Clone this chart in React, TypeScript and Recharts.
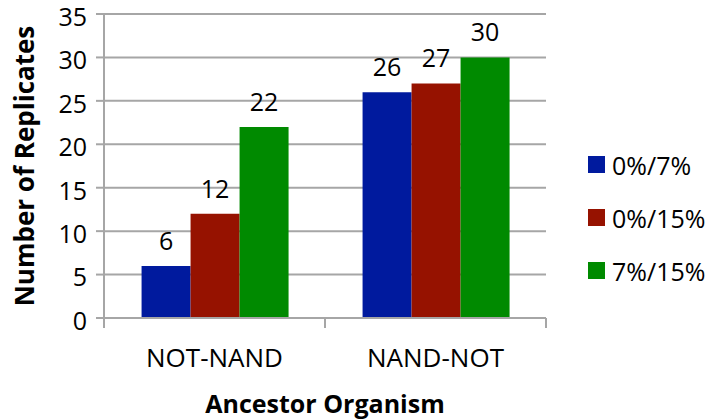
import React from 'react';
import { BarChart, Bar, XAxis, YAxis, CartesianGrid, Legend, LabelList } from 'recharts';

const categories = ['NOT-NAND', 'NAND-NOT'];
const series07 = [6, 26];
const series015 = [12, 27];
const series715 = [22, 30];
const seriesNames = ['0%/7%', '0%/15%', '7%/15%'];
const seriesColors = ['#001a9e', '#961200', '#008a00'];
const yTicks = [0, 5, 10, 15, 20, 25, 30, 35];

const data = categories.map((name, i) => ({
  name,
  s07: series07[i],
  s015: series015[i],
  s715: series715[i],
}));

const FONT = '"Open Sans", sans-serif';
const GRID = '#a6a6a6';
const valueLabelStyle = { fontFamily: FONT, fontSize: 25, fill: '#000' };

function CategoryTick(props: any) {
  const { x, y, payload, index } = props;
  const half = payload.offset ?? 0;
  return (
    <g>
      <line x1={x - half} x2={x - half} y1={y} y2={y + 10} stroke={GRID} strokeWidth={2} />
      {index === categories.length - 1 && (
        <line x1={x + half} x2={x + half} y1={y} y2={y + 10} stroke={GRID} strokeWidth={2} />
      )}
      <text x={x} y={y + 49} textAnchor="middle" fontFamily={FONT} fontSize={26} fill="#000">
        {payload.value}
      </text>
    </g>
  );
}

function LegendBox() {
  return (
    <div>
      {seriesNames.map((name, i) => (
        <div key={name} style={{ display: 'flex', alignItems: 'center', height: 53 }}>
          <div style={{ width: 17, height: 17, background: seriesColors[i], marginRight: 7 }} />
          <span style={{ fontFamily: FONT, fontSize: 25, color: '#000' }}>{name}</span>
        </div>
      ))}
    </div>
  );
}

export default function App() {
  return (
    <div style={{ position: 'absolute', left: 0, top: 0, background: '#fff' }}>
      <BarChart
        width={712}
        height={419}
        data={data}
        margin={{ top: 14, right: 166, left: 0, bottom: 0 }}
        barGap={0}
        barCategoryGap="17%"
      >
        <CartesianGrid vertical={false} stroke={GRID} strokeWidth={2} />
        <XAxis
          dataKey="name"
          height={101}
          axisLine={{ stroke: GRID, strokeWidth: 2 }}
          tickLine={false}
          tickSize={0}
          tickMargin={0}
          tick={<CategoryTick />}
          interval={0}
          label={{
            value: 'Ancestor Organism',
            position: 'insideBottom',
            offset: 6,
            style: { fontFamily: FONT, fontSize: 25, fontWeight: 700, fill: '#000' },
          }}
        />
        <YAxis
          width={104}
          domain={[0, 35]}
          ticks={yTicks}
          interval={0}
          axisLine={{ stroke: GRID, strokeWidth: 2 }}
          tickLine={{ stroke: GRID, strokeWidth: 2 }}
          tickSize={8}
          tickMargin={9}
          tick={{ fontFamily: FONT, fontSize: 25, fill: '#000', dy: 3 }}
          label={{
            value: 'Number of Replicates',
            angle: -90,
            position: 'insideLeft',
            offset: 25,
            style: { textAnchor: 'middle', fontFamily: FONT, fontSize: 26, fontWeight: 700, fill: '#000' },
          }}
        />
        <Legend
          layout="vertical"
          align="center"
          verticalAlign="middle"
          content={<LegendBox />}
          wrapperStyle={{ left: 588, top: 138, width: 124 }}
        />
        <Bar dataKey="s07" name={seriesNames[0]} fill={seriesColors[0]} isAnimationActive={false}>
          <LabelList dataKey="s07" position="top" offset={16} style={valueLabelStyle} />
        </Bar>
        <Bar dataKey="s015" name={seriesNames[1]} fill={seriesColors[1]} isAnimationActive={false}>
          <LabelList dataKey="s015" position="top" offset={16} style={valueLabelStyle} />
        </Bar>
        <Bar dataKey="s715" name={seriesNames[2]} fill={seriesColors[2]} isAnimationActive={false}>
          <LabelList dataKey="s715" position="top" offset={16} style={valueLabelStyle} />
        </Bar>
      </BarChart>
    </div>
  );
}
